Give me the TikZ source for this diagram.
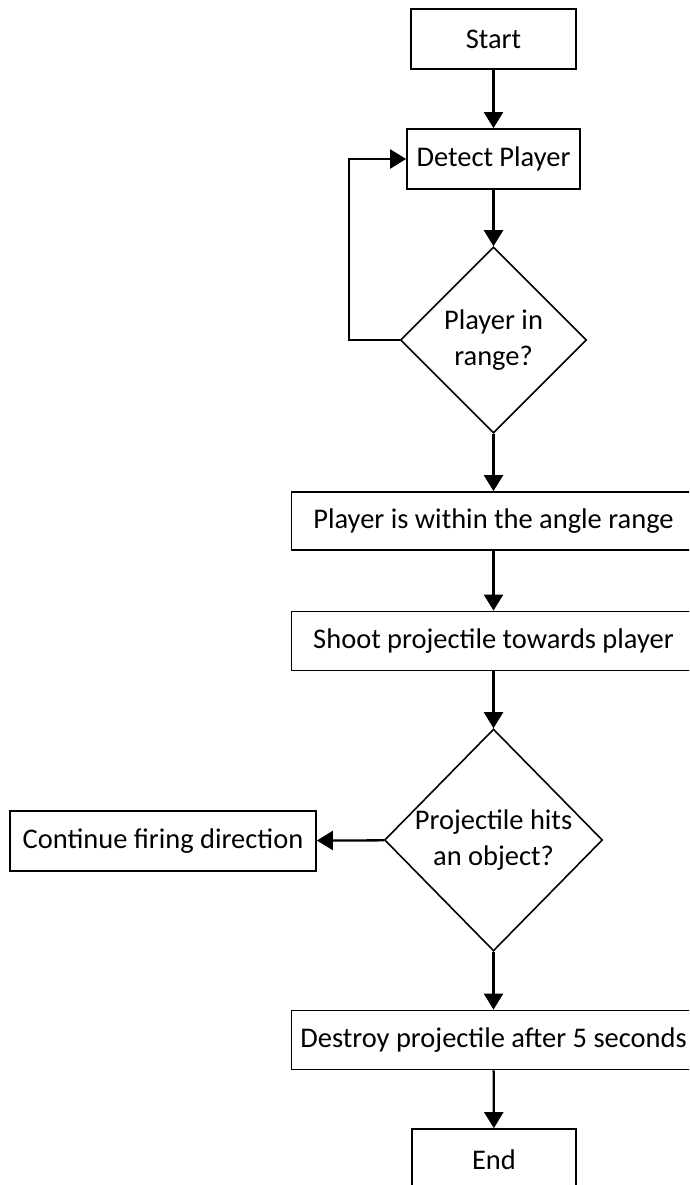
\documentclass[tikz,border=0pt]{standalone}
\usepackage{fontspec}
\setmainfont{Carlito}
\usepackage{tikz}
\usetikzlibrary{arrows.meta,shapes.geometric}
\tikzset{
  every picture/.style={line join=miter, >={Triangle[length=0.32cm,width=0.38cm]}},
  procbox/.style={draw, line width=1pt, fill=white, rectangle, inner sep=0pt,
    font=\fontsize{16.2}{20.5}\selectfont},
  testbox/.style={draw, line width=0.9pt, fill=white, diamond, inner sep=0pt, aspect=1,
    align=center, font=\fontsize{16.2}{20.5}\selectfont},
  flow/.style={->, line width=1.3pt},
}

\begin{document}
\begin{tikzpicture}[x=0.02cm,y=-0.02cm]
\useasboundingbox (0,0) rectangle (689,1185);
\begin{scope}
\clip (0,0) rectangle (689,1185);
% boxes
\node[procbox,minimum width=3.3cm,minimum height=1.2cm] (start) at (493.5,39) {Start};
\node[procbox,minimum width=3.46cm,minimum height=1.2cm] (detect) at (493.5,159) {Detect Player};
\node[testbox,minimum width=3.72cm,minimum height=3.72cm] (inrange) at (493.5,340) {Player in\\range?};
\node[procbox,minimum width=8.08cm,minimum height=1.16cm] (within) at (493.5,521) {Player is within the angle range};
\node[procbox,minimum width=8.08cm,minimum height=1.18cm] (shoot) at (493.5,641) {Shoot projectile towards player};
\node[testbox,minimum width=4.28cm,minimum height=4.44cm] (hits) at (493.5,840) {Projectile hits\\an object?};
\node[procbox,minimum width=6.12cm,minimum height=1.2cm] (cont) at (163,841) {Continue firing direction};
\node[procbox,minimum width=8.08cm,minimum height=1.18cm] (destroy) at (493.5,1040) {Destroy projectile after 5 seconds};
\node[procbox,minimum width=3.28cm,minimum height=1.24cm] (finish) at (494,1160) {End};
\end{scope}
% arrows
\draw[flow] (start) -- (detect);
\draw[flow] (detect) -- (inrange);
\draw[flow] (inrange.west) -- (349,340) |- (detect.west);
\draw[flow] (inrange) -- (within);
\draw[flow] (within) -- (shoot);
\draw[flow] (shoot) -- (hits);
\draw[flow] (hits) -- (cont);
\draw[flow] (hits) -- (destroy);
\draw[flow] (destroy) -- (finish);
\end{tikzpicture}
\end{document}
